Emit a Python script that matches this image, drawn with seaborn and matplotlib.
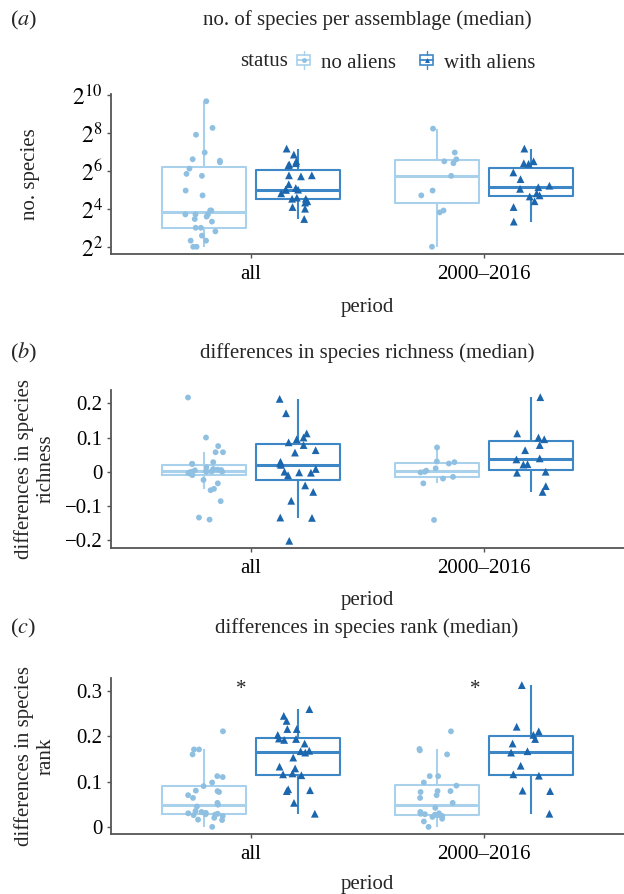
import numpy as np
import pandas as pd
import matplotlib
matplotlib.use("Agg")
import matplotlib.pyplot as plt
import seaborn as sns
from matplotlib.patches import Patch, Rectangle
from matplotlib.lines import Line2D
from matplotlib.legend_handler import HandlerBase
from matplotlib.ticker import FuncFormatter

# ---------------- data ----------------
periods = ["all", "2000–2016"]
statuses = ["no aliens", "with aliens"]

# (a) number of species per assemblage (counts, shown on a log2 axis)
a_no_all = [803, 304, 237, 124, 92, 87, 69, 97, 57, 53, 31, 26, 15, 13, 15, 13,
            13, 12, 11, 8, 8, 10, 6, 5, 5, 7, 4, 4]
a_with_all = [143, 115, 90, 78, 80, 84, 54, 52, 54, 39, 34, 32, 32, 32, 28, 24,
              23, 23, 21, 20, 16, 17, 11]
a_no_recent = [296, 124, 97, 90, 84, 53, 31, 26, 15, 14, 4]
a_with_recent = [143, 90, 84, 82, 60, 47, 37, 33, 35, 28, 26, 25, 21, 17, 10]

# (b) differences in species richness
b_no_all = [-0.01, -0.006, -0.004, -0.002, 0.0, 0.0, 0.0, 0.001, 0.002, 0.003,
            0.004, 0.005, 0.006, 0.008, -0.024, -0.034, -0.05, -0.054, -0.086,
            -0.14, -0.134, 0.013, 0.023, 0.023, 0.028, 0.057, 0.057, 0.075,
            0.10, 0.217]
b_with_all = [0.213, 0.171, 0.112, 0.10, 0.095, 0.086, 0.078, 0.063, 0.056,
              0.029, 0.024, 0.02, 0.008, -0.002, -0.003, 0.0, -0.01, -0.04,
              -0.059, -0.085, -0.134, -0.135, -0.202]
b_no_recent = [0.071, 0.028, 0.024, 0.030, 0.01, 0.003, 0.0, -0.002, -0.015,
               -0.02, -0.034, -0.141]
b_with_recent = [0.218, 0.112, 0.100, 0.095, 0.078, 0.063, 0.039, 0.036, 0.021,
                 0.022, 0.0, -0.003, -0.042, -0.059]

# (c) differences in species rank
c_no_all = [0.211, 0.171, 0.16, 0.171, 0.112, 0.11, 0.098, 0.09, 0.08, 0.079,
            0.077, 0.07, 0.064, 0.053, 0.049, 0.045, 0.035, 0.033, 0.031, 0.03,
            0.029, 0.028, 0.027, 0.026, 0.024, 0.02, 0.016, 0.015, 0.0]
c_with_all = [0.26, 0.245, 0.234, 0.216, 0.216, 0.203, 0.195, 0.194, 0.192,
              0.184, 0.168, 0.167, 0.164, 0.153, 0.133, 0.129, 0.118, 0.114,
              0.116, 0.079, 0.081, 0.083, 0.053, 0.029]
c_no_recent = [0.211, 0.172, 0.169, 0.16, 0.112, 0.112, 0.098, 0.091, 0.079,
               0.079, 0.077, 0.07, 0.064, 0.053, 0.042, 0.033, 0.03, 0.03, 0.029,
               0.028, 0.027, 0.026, 0.025, 0.024, 0.022, 0.018, 0.012, 0.0]
c_with_recent = [0.313, 0.221, 0.211, 0.203, 0.194, 0.184, 0.167, 0.164, 0.135,
                 0.113, 0.116, 0.08, 0.079, 0.029]

titles = ["no. of species per assemblage (median)",
          "differences in species richness (median)",
          "differences in species rank (median)"]
ylabels = ["no. species", "differences in species\nrichness",
           "differences in species\nrank"]
letters = ["a", "b", "c"]
a_ticks = [2, 4, 6, 8, 10]
b_ticks = [-0.2, -0.1, 0, 0.1, 0.2]
b_ticklabels = ["\u22120.2", "\u22120.1", "0", "0.1", "0.2"]
c_ticks = [0, 0.1, 0.2, 0.3]
c_ticklabels = ["0", "0.1", "0.2", "0.3"]
star_periods = ["all", "2000–2016"]


def make_df(no_all, with_all, no_rec, with_rec):
    rows = []
    for p, s, vals in [(periods[0], statuses[0], no_all), (periods[0], statuses[1], with_all),
                       (periods[1], statuses[0], no_rec), (periods[1], statuses[1], with_rec)]:
        for v in vals:
            rows.append({"period": p, "status": s, "value": v})
    return pd.DataFrame(rows)


df_a = make_df(a_no_all, a_with_all, a_no_recent, a_with_recent)
df_a["value"] = np.log2(df_a["value"])
df_b = make_df(b_no_all, b_with_all, b_no_recent, b_with_recent)
df_c = make_df(c_no_all, c_with_all, c_no_recent, c_with_recent)

# ---------------- style ----------------
sns.set_style("white")
plt.rcParams["font.family"] = ["Liberation Serif", "DejaVu Serif"]
plt.rcParams["mathtext.fontset"] = "stix"

box_pal = {"no aliens": "#a9d1ec", "with aliens": "#3d87c7"}
pt_pal = {"no aliens": "#8fc0e1", "with aliens": "#1c66ae"}
markers = {"no aliens": "o", "with aliens": "^"}
msize = {"no aliens": 4.2, "with aliens": 5.6}

W, H = 624, 894
fig = plt.figure(figsize=(W / 100, H / 100), dpi=100)

# axes pixel boxes (top, bottom)
ax_px = [(94, 254), (390, 548), (678, 834)]
title_y = [20, 353, 628]
xlabel_y = [307, 601, 884]
ylims = [(1.62, 10.03), (-0.223, 0.239), (-0.0157, 0.3287)]

np.random.seed(3)
axes = []
for i, (df, (top, bot)) in enumerate(zip([df_a, df_b, df_c], ax_px)):
    ax = fig.add_axes([111 / W, 1 - bot / H, (W - 111) / W, (bot - top) / H])
    axes.append(ax)
    sns.boxplot(data=df, x="period", y="value", hue="status", order=periods,
                hue_order=statuses, palette=box_pal, fill=False, showfliers=False,
                showcaps=False, width=0.8, gap=0.1, linewidth=1.5, whis=1.5,
                medianprops={"linewidth": 2.2}, legend=False, ax=ax)
    for s in statuses:
        sns.stripplot(data=df[df["status"] == s], x="period", y="value", hue="status",
                      order=periods, hue_order=statuses, palette=pt_pal, dodge=True,
                      jitter=0.17, marker=markers[s], size=msize[s], linewidth=0,
                      legend=False, ax=ax, zorder=3)
    ax.set_xlim(-0.6, 1.6)
    ax.set_ylim(*ylims[i])
    ax.set_xlabel("")
    ax.set_ylabel("")
    for sp in ["top", "right"]:
        ax.spines[sp].set_visible(False)
    for sp in ["left", "bottom"]:
        ax.spines[sp].set_color("#555555")
        ax.spines[sp].set_linewidth(1.3)
    ax.tick_params(axis="both", colors="#555555", length=3, width=1, labelsize=15,
                   labelcolor="black", pad=3, left=True, bottom=True)
    ax.tick_params(axis="x", pad=5)
    ax.set_xticks(range(len(periods)))
    ax.set_xticklabels(periods)

    fig.text(10 / W, 1 - title_y[i] / H, r"($\mathit{%s}$)" % letters[i], ha="left",
             va="center", fontsize=16)
    fig.text(367 / W, 1 - title_y[i] / H, titles[i], ha="center", va="center",
             fontsize=15)
    fig.text(367 / W, 1 - xlabel_y[i] / H, "period", ha="center", va="center",
             fontsize=15)
    fig.text((35 if i else 30) / W, 1 - (top + bot) / 2 / H, ylabels[i], rotation=90,
             ha="center", va="center", multialignment="center", fontsize=15,
             linespacing=1.2)

axes[0].set_yticks(a_ticks)
axes[0].yaxis.set_major_formatter(FuncFormatter(lambda v, p: r"$2^{%d}$" % round(v)))
axes[0].tick_params(axis="y", labelsize=17)
axes[1].set_yticks(b_ticks)
axes[1].set_yticklabels(b_ticklabels)
axes[2].set_yticks(c_ticks)
axes[2].set_yticklabels(c_ticklabels)

# significance stars
for p in star_periods:
    axes[2].text(periods.index(p) - 0.04, 0.303, "*", ha="center", va="center",
                 fontsize=15)


# legend with small boxplot glyph keys
class BoxKey(HandlerBase):
    def __init__(self, color, ptcolor, marker):
        super().__init__()
        self.color, self.ptcolor, self.marker = color, ptcolor, marker

    def create_artists(self, legend, orig_handle, xdescent, ydescent, width,
                       height, fontsize, trans):
        x0, y0 = -xdescent, -ydescent
        cx, cy = x0 + width / 2, y0 + height / 2
        rect = Rectangle((x0 + 0.08 * width, y0 + 0.22 * height), 0.84 * width,
                         0.56 * height, facecolor="white", edgecolor=self.color,
                         linewidth=1.2, transform=trans)
        med = Line2D([x0 + 0.08 * width, x0 + 0.92 * width], [cy, cy],
                     color=self.color, lw=1.3, transform=trans)
        w1 = Line2D([cx, cx], [y0 + 0.78 * height, y0 + 1.0 * height],
                    color=self.color, lw=1.0, transform=trans)
        w2 = Line2D([cx, cx], [y0, y0 + 0.22 * height], color=self.color, lw=1.0,
                    transform=trans)
        pt = Line2D([cx], [cy], marker=self.marker, markersize=3.5, lw=0,
                    markerfacecolor=self.ptcolor, markeredgewidth=0, transform=trans)
        return [rect, med, w1, w2, pt]


handles = [Patch(), Patch()]
hmap = {h: BoxKey(box_pal[s], pt_pal[s], markers[s]) for h, s in zip(handles, statuses)}
fig.text(288 / W, 1 - 62 / H, "status", ha="right", va="center", fontsize=15)
fig.legend(handles, statuses, handler_map=hmap,
           loc="center left", bbox_to_anchor=(296 / W, 1 - 62 / H), ncol=2,
           frameon=False, fontsize=15, handlelength=0.75, handleheight=0.95,
           handletextpad=0.45, columnspacing=1.1, borderpad=0, borderaxespad=0)

fig.savefig("out.png", dpi=100)
